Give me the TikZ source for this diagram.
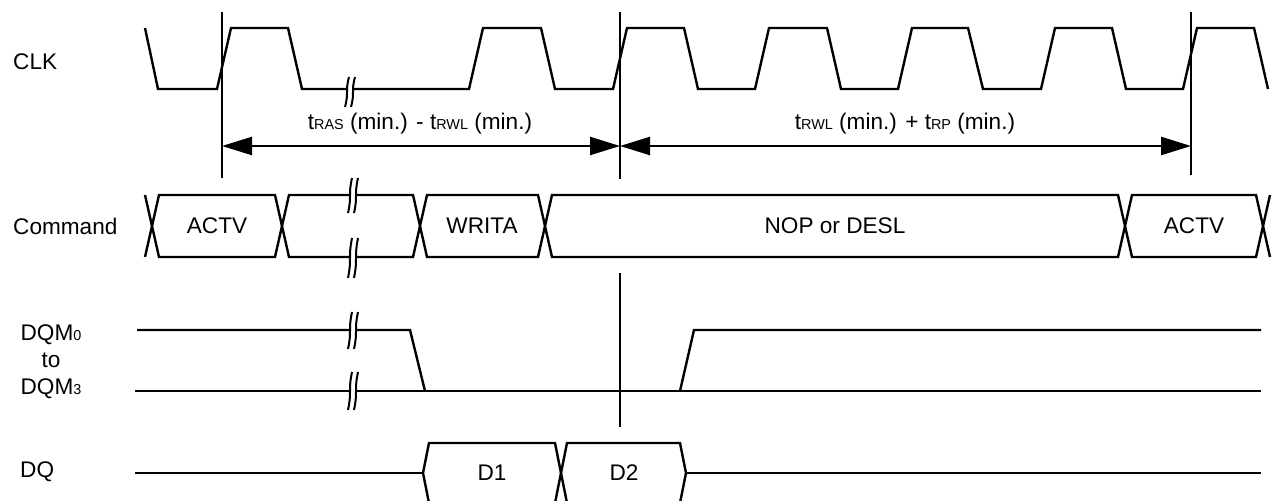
\documentclass[tikz,border=0pt]{standalone}
\usepackage{fontspec}
\setmainfont{Liberation Sans}
\usetikzlibrary{arrows.meta}

% small letters set on the base line (t_RAS, DQM_0)
\newcommand{\tsub}[1]{{\fontsize{7.2}{8}\selectfont #1}}
% broken-axis mark: x, upper y, lower y
\newcommand{\brkmark}[3]{%
  \fill[white] (#1-3,#2) rectangle (#1+3,#3);
  \draw[line width=1pt] (#1-5,#3) .. controls (#1-1,#2*0.5+#3*0.5) and (#1-5,#2*0.5+#3*0.5) .. (#1-1,#2);
  \draw[line width=1pt] (#1+1,#3) .. controls (#1+5,#2*0.5+#3*0.5) and (#1+1,#2*0.5+#3*0.5) .. (#1+5,#2);
}

\begin{document}
\begin{tikzpicture}[x = 0.5pt, y = -0.5pt, % one unit = one pixel, y downwards
                > = {Triangle[length=15pt, width=9pt]}, % arrow head style
                line width = 1.2pt % line style
            ]

            \tikzstyle{every node}=[inner sep = 0pt,
            font = \fontsize{11.3}{13.5}\selectfont]
            \tikzstyle{tline}=[line width = 1.4pt]

            \useasboundingbox (0,0) rectangle (1273,501);

            % signal names
            \node[anchor = west] (clk) at (12,62) {CLK};
            \node[anchor = west] (cmd) at (12,226) {Command};
            \node[align = center] (dqm) at (51,362) {DQM\tsub{0}\\to\\DQM\tsub{3}};
            \node[anchor = west] (dq) at (19,472) {DQ};

            % clock
            \draw (145,28) -- (158,89) -- (217,89) -- (231,28) -- (288,28)
            -- (302,89) -- (469,89) -- (483,28) -- (541,28) -- (555,89)
            -- (613,89) -- (627,28) -- (684,28) -- (698,89) -- (755,89)
            -- (769,28) -- (827,28) -- (841,89) -- (898,89) -- (912,28)
            -- (968,28) -- (983,89) -- (1041,89) -- (1055,28) -- (1112,28)
            -- (1126,89) -- (1183,89) -- (1197,28) -- (1254,28) -- (1268,89);
            \brkmark{350}{77}{107}

            % reference lines
            \coordinate (r1t) at (222,12); \coordinate (r1b) at (222,178);
            \coordinate (r2t) at (620,12); \coordinate (r2b) at (620,179);
            \coordinate (r3t) at (1191,12); \coordinate (r3b) at (1191,175);
            \coordinate (r4t) at (620,273); \coordinate (r4b) at (620,427);
            \draw[tline] (r1t) -- (r1b); \draw[tline] (r2t) -- (r2b);
            \draw[tline] (r3t) -- (r3b); \draw[tline] (r4t) -- (r4b);

            \coordinate (a1) at (222,146); \coordinate (a2) at (620,146);
            \coordinate (a3) at (1191,146);
            \draw[<->] (a1) -- (a2); \draw[<->] (a2) -- (a3);
            \node (tras) at (420,124) {t\tsub{RAS} (min.) - t\tsub{RWL} (min.)};
            \node (trp) at (905,124) {t\tsub{RWL} (min.) + t\tsub{RP} (min.)};

            % command bus
            \draw (145,195) -- (152,226) -- (145,257);
            \draw (152,226) -- (159,195) -- (275,195) -- (282,226) -- (275,257)
            -- (159,257) -- cycle;
            \draw (282,226) -- (289,195) -- (413,195) -- (420,226) -- (413,257)
            -- (289,257) -- cycle;
            \draw (420,226) -- (427,195) -- (538,195) -- (545,226) -- (538,257)
            -- (427,257) -- cycle;
            \draw (545,226) -- (552,195) -- (1118,195) -- (1125,226) -- (1118,257)
            -- (552,257) -- cycle;
            \draw (1125,226) -- (1132,195) -- (1256,195) -- (1263,226) -- (1256,257)
            -- (1132,257) -- cycle;
            \draw (1270,195) -- (1263,226) -- (1270,257);
            \brkmark{353}{178}{213}
            \brkmark{353}{238}{278}

            \node (actv1) at (217,226) {ACTV};
            \node (writa) at (482,226) {WRITA};
            \node (nop) at (835,226) {NOP or DESL};
            \node (actv2) at (1194,226) {ACTV};

            % DQM
            \draw (137,330) -- (410,330) -- (425,391);
            \draw (680,391) -- (694,330) -- (1261,330);
            \draw (135,391) -- (1261,391);
            \brkmark{353}{312}{349}
            \brkmark{353}{372}{410}

            % DQ
            \draw (135,473) -- (423,473);
            \draw (423,473) -- (429,443) -- (555,443) -- (561,473) -- (555,503)
            -- (429,503) -- cycle;
            \draw (561,473) -- (567,443) -- (680,443) -- (686,473) -- (680,503)
            -- (567,503) -- cycle;
            \draw (686,473) -- (1261,473);
            \node (d1) at (492,473) {D1};
            \node (d2) at (624,473) {D2};
        \end{tikzpicture}
\end{document}
